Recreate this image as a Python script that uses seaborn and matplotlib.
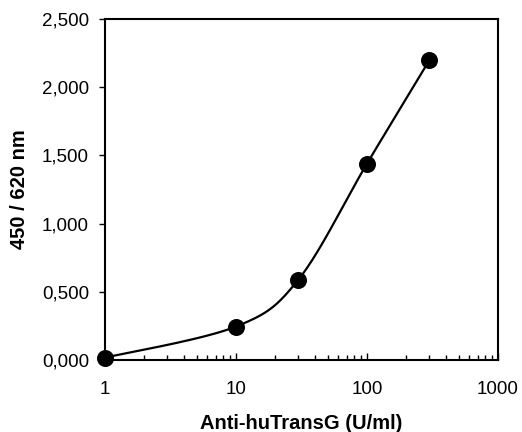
import numpy as np
import pandas as pd
import matplotlib
matplotlib.use("Agg")
import matplotlib.pyplot as plt
import seaborn as sns
from matplotlib.ticker import FixedLocator, FuncFormatter, LogLocator, NullFormatter

# data
conc = [1, 10, 30, 100, 300]            # Anti-huTransG (U/ml)
od = [0.017, 0.245, 0.590, 1.440, 2.200]  # 450 / 620 nm
xticks = [1, 10, 100, 1000]
xticklabels = ["1", "10", "100", "1000"]
yticks = [0.0, 0.5, 1.0, 1.5, 2.0, 2.5]

sns.set_theme(style="white")
plt.rcParams['font.family'] = ['Liberation Sans', 'DejaVu Sans']

fig = plt.figure(figsize=(5.22, 4.32), dpi=100)
ax = fig.add_axes([0.201, 0.1667, 0.753, 0.789])

# smoothed (Excel-like Bezier) curve in log-x space
lx = np.log10(np.array(conc, float))
yy = np.array(od, float)
P = np.column_stack([lx, yy])
Pext = np.vstack([P[0], P, P[-1]])
curve = []
for i in range(len(P) - 1):
    p0, p1, p2, p3 = Pext[i], Pext[i + 1], Pext[i + 2], Pext[i + 3]
    c1 = p1 + (p2 - p0) / 6.0
    c2 = p2 - (p3 - p1) / 6.0
    t = np.linspace(0, 1, 40)[:, None]
    seg = ((1 - t) ** 3) * p1 + 3 * ((1 - t) ** 2) * t * c1 + 3 * (1 - t) * t ** 2 * c2 + t ** 3 * p2
    curve.append(seg if i == 0 else seg[1:])
curve = np.vstack(curve)
curve_df = pd.DataFrame({"x": 10 ** curve[:, 0], "y": curve[:, 1]})
pts_df = pd.DataFrame({"x": conc, "y": od})

ax.set_xscale("log")
sns.lineplot(data=curve_df, x="x", y="y", sort=False, color="black", lw=1.6, ax=ax, zorder=2)
sns.scatterplot(data=pts_df, x="x", y="y", color="black", s=150, edgecolor="black", linewidth=0, ax=ax, zorder=3, clip_on=False)

ax.set_xlim(1, 1000)
ax.set_ylim(0, 2.5)
ax.xaxis.set_major_locator(FixedLocator(xticks))
ax.set_xticklabels(xticklabels)
ax.xaxis.set_minor_locator(LogLocator(base=10, subs=np.arange(2, 10)))
ax.xaxis.set_minor_formatter(NullFormatter())
ax.yaxis.set_major_locator(FixedLocator(yticks))
ax.yaxis.set_major_formatter(FuncFormatter(lambda v, p: f"{v:.3f}".replace(".", ",")))

for s in ax.spines.values():
    s.set_color("black")
    s.set_linewidth(1.5)

ax.tick_params(axis="x", which="major", direction="in", length=5, width=1, colors="black",
               labelsize=13.5, pad=15, top=False, bottom=True)
ax.tick_params(axis="x", which="minor", direction="in", length=3.5, width=1, colors="black",
               top=False, bottom=True)
ax.tick_params(axis="y", which="major", direction="out", length=4.5, width=1, colors="black",
               labelsize=13.5, pad=7, left=True, right=False)
ax.grid(False)

ax.set_xlabel("Anti-huTransG (U/ml)", fontsize=14.5, fontweight="bold", color="black", labelpad=12)
ax.set_ylabel("450 / 620 nm", fontsize=14.5, fontweight="bold", color="black", labelpad=9)

fig.savefig("out.png", dpi=100, facecolor="white")
